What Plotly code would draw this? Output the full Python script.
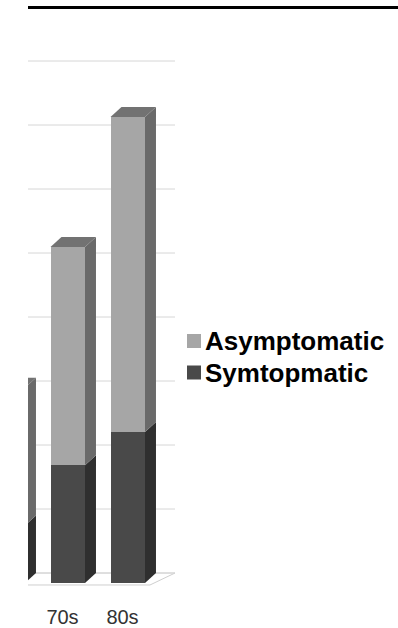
import plotly.graph_objects as go

# Decade categories and case counts per group (stacked)
decades = ["60s", "70s", "80s"]
symptomatic = [9, 18.4, 23.6]
asymptomatic = [21.5, 34.1, 49.2]
gridline_values = [0, 10, 20, 30, 40, 50, 60, 70, 80]

# Colours for the front, side and top faces of the pseudo-3D bars
ASYM_FRONT, ASYM_SIDE, ASYM_TOP = "#a6a6a6", "#6a6a6a", "#727272"
SYM_FRONT, SYM_SIDE = "#494949", "#2f2f2f"
GRID = "#d6d6d6"

# Figure / plot-area geometry (pixels)
W, H = 398, 628
ML, MR, MT, MB = 28, 218, 20, 28
PW, PH = W - ML - MR, H - MT - MB

# Depth offset of the 3D effect, in data units
DX, DY = 0.183, 1.56
BAR_W, BAR_OFF = 0.575, -0.2

xpos = list(range(len(decades)))
x_range = [0.425, 2.9583]
y_range = [-2.656, 87.97]
wall_right = 2.875
floor_front_right = 2.458
floor_front_y = -0.31


def px_x(px):
    return (px - ML) / PW


def px_y(py):
    return (H - MB - py) / PH


fig = go.Figure()

fig.add_trace(go.Bar(
    x=xpos, y=symptomatic, name="Symtopmatic",
    width=BAR_W, offset=BAR_OFF,
    marker=dict(color=SYM_FRONT, line=dict(width=0)),
))
fig.add_trace(go.Bar(
    x=xpos, y=asymptomatic, name="Asymptomatic",
    width=BAR_W, offset=BAR_OFF,
    marker=dict(color=ASYM_FRONT, line=dict(width=0)),
))

shapes = []

# Floor of the 3D plot area
xl = x_range[0] - 1
shapes.append(dict(
    type="path", xref="x", yref="y", layer="below",
    path=(f"M{xl},{floor_front_y} L{floor_front_right},{floor_front_y} "
          f"L{wall_right},{DY} L{xl},{DY} Z"),
    fillcolor="white", line=dict(color="#cfcfcf", width=1),
))

# Gridlines on the back wall
for v in gridline_values:
    shapes.append(dict(
        type="line", xref="x", yref="y", layer="below",
        x0=xl, x1=wall_right, y0=v + DY, y1=v + DY,
        line=dict(color=GRID, width=1),
    ))


def side_face(x_right, y0, y1, color):
    return dict(
        type="path", xref="x", yref="y", layer="above",
        path=(f"M{x_right},{y0} L{x_right + DX},{y0 + DY} "
              f"L{x_right + DX},{y1 + DY} L{x_right},{y1} Z"),
        fillcolor=color, line=dict(width=0),
    )


for i, (s, a) in enumerate(zip(symptomatic, asymptomatic)):
    x_left = xpos[i] + BAR_OFF
    x_right = x_left + BAR_W
    top = s + a
    shapes.append(side_face(x_right, 0, s, SYM_SIDE))
    shapes.append(side_face(x_right, s, top, ASYM_SIDE))
    shapes.append(dict(
        type="path", xref="x", yref="y", layer="above",
        path=(f"M{x_left},{top} L{x_left + DX},{top + DY} "
              f"L{x_right + DX},{top + DY} L{x_right},{top} Z"),
        fillcolor=ASYM_TOP, line=dict(width=0),
    ))

# Rule across the top of the page
shapes.append(dict(
    type="line", xref="paper", yref="paper",
    x0=px_x(28), x1=px_x(398), y0=px_y(7.5), y1=px_y(7.5),
    line=dict(color="black", width=3),
))

# Legend swatches and labels
legend_items = [("Asymptomatic", ASYM_FRONT, 341), ("Symtopmatic", SYM_FRONT, 372.5)]
annotations = []
for label, color, cy in legend_items:
    shapes.append(dict(
        type="rect", xref="paper", yref="paper",
        x0=px_x(187), x1=px_x(201), y0=px_y(cy - 7), y1=px_y(cy + 7),
        fillcolor=color, line=dict(width=0),
    ))
    annotations.append(dict(
        x=px_x(203), y=px_y(cy), xref="paper", yref="paper",
        text=label, showarrow=False, xanchor="left", yanchor="middle",
        font=dict(family="Liberation Sans", size=26, color="black", weight="bold"),
    ))

fig.update_layout(
    width=W, height=H,
    margin=dict(l=ML, r=MR, t=MT, b=MB, pad=0, autoexpand=False),
    paper_bgcolor="white", plot_bgcolor="white",
    barmode="stack", showlegend=False,
    shapes=shapes, annotations=annotations,
    xaxis=dict(
        range=x_range, tickmode="array", tickvals=xpos, ticktext=decades,
        showgrid=False, zeroline=False, showline=False, ticks="",
        tickfont=dict(family="Liberation Sans", size=20, color="#333333"),
        ticklabelstandoff=3, automargin=False,
    ),
    yaxis=dict(
        range=y_range, showgrid=False, zeroline=False, showline=False,
        showticklabels=False, ticks="", automargin=False,
    ),
)

fig.write_html("out.html")
